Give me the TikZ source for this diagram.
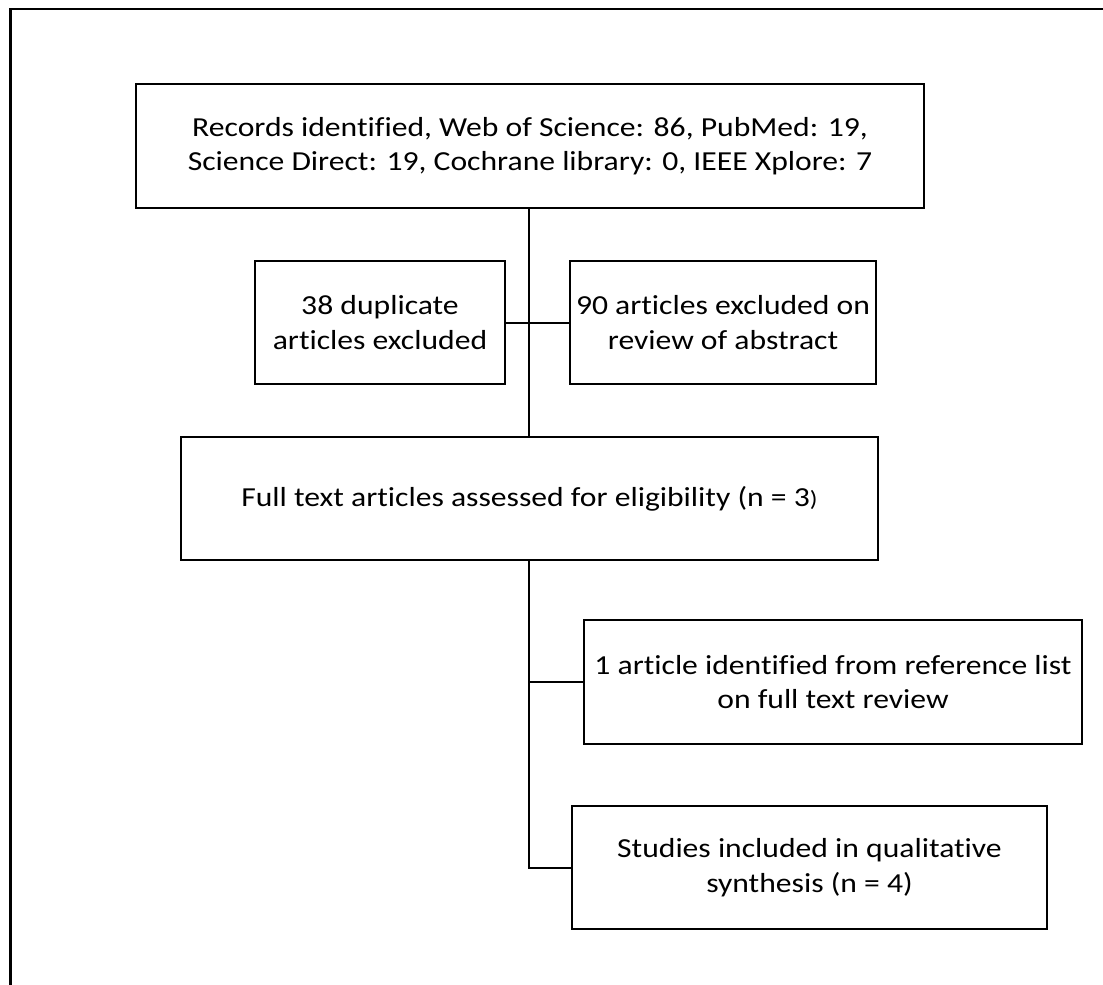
\documentclass[tikz,border=0pt]{standalone}
\usepackage{fontspec}
\setmainfont{Carlito}[FakeStretch=1.15,Ligatures=NoCommon]
\begin{document}
\begin{tikzpicture}[x=1pt,y=-1pt,
  box/.style={draw=black, line width=2pt, align=center, inner sep=0pt,
    font=\fontsize{27.5}{34.5}\selectfont},
  link/.style={line width=2pt},
  frameline/.style={line width=2.3pt}]
\useasboundingbox (0,0) rectangle (1103,985);
\draw[frameline] (10.5,985) -- (10.5,9) -- (1103,9);

\node[box, minimum width=788pt, minimum height=124pt] (b1) at (530,146)
  {Records identified, Web of Science: 86, PubMed: 19,\\Science Direct: 19, Cochrane library: 0, IEEE Xplore: 7};
\node[box, minimum width=250pt, minimum height=123pt] (b2) at (380,322.5)
  {38 duplicate\\articles excluded};
\node[box, minimum width=306pt, minimum height=123pt] (b3) at (723,322.5)
  {90 articles excluded on\\review of abstract};
\node[box, minimum width=697pt, minimum height=123pt] (b4) at (529.5,498.5)
  {Full text articles assessed for eligibility (n = 3{\fontsize{22}{22}\selectfont )}};
\node[box, minimum width=498pt, minimum height=124pt] (b5) at (833,682)
  {1 article identified from reference list\\on full text review};
\node[box, minimum width=475pt, minimum height=123pt] (b6) at (809.5,867.5)
  {Studies included in qualitative\\synthesis (n = 4)};

\coordinate (v) at (529,0);
\draw[link] (b1.south -| v) -- (b4.north -| v);
\draw[link] (b2.east) -- (b3.west);
\draw[link] (b4.south -| v) |- (b6.west);
\draw[link] (v |- b5.west) -- (b5.west);
\end{tikzpicture}
\end{document}
